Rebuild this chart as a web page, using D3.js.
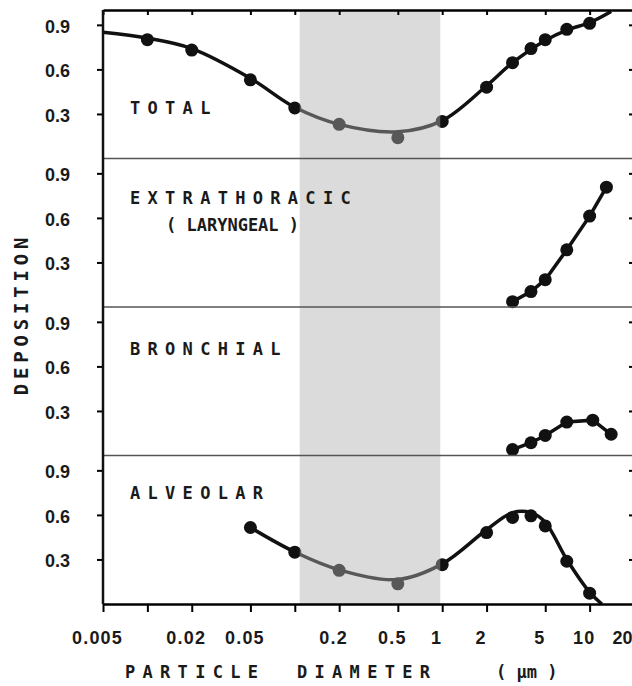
<!DOCTYPE html>
<html>
<head>
<meta charset="utf-8">
<script src="https://cdn.jsdelivr.net/npm/d3@7"></script>
<style>
body { margin: 0; background: #fff; }
svg { display: block; }
.num { font-family: "Liberation Sans", Arial, sans-serif; font-weight: bold; font-size: 18px; fill: #1a1a1a; }
.lab { font-family: "DejaVu Sans Mono", monospace; font-weight: bold; font-size: 17px; fill: #1a1a1a; }
</style>
</head>
<body>
<div id="chart"></div>
<script>
// ---- data ----
const panelNames = ["TOTAL", "EXTRATHORACIC", "BRONCHIAL", "ALVEOLAR"];
const xTicks = [0.005, 0.01, 0.02, 0.05, 0.1, 0.2, 0.5, 1, 2, 5, 10, 20];
const xTickLabels = ["0.005", "", "0.02", "0.05", "", "0.2", "0.5", "1", "2", "5", "10", "20"];
const yTicks = [0.3, 0.6, 0.9];
const shadeRange = [0.108, 0.97]; //grey band, particle diameter

const totalDotX = [0.01, 0.02, 0.05, 0.1, 0.2, 0.5, 1, 2, 3, 4, 5, 7, 10];
const totalDotY = [0.80, 0.73, 0.53, 0.34, 0.23, 0.14, 0.25, 0.48, 0.645, 0.74, 0.80, 0.87, 0.91];
const totalCurveX = [0.005, 0.01, 0.02, 0.05, 0.1, 0.2, 0.5, 1, 2, 3, 5, 7, 10, 14];
const totalCurveY = [0.85, 0.81, 0.74, 0.54, 0.345, 0.23, 0.18, 0.255, 0.49, 0.645, 0.795, 0.865, 0.915, 0.99];

const etDotX = [3, 4, 5, 7, 10, 13];
const etDotY = [0.036, 0.104, 0.184, 0.385, 0.612, 0.807];

const bronchDotX = [3, 4, 5, 7, 10.5, 14];
const bronchDotY = [0.04, 0.086, 0.135, 0.225, 0.238, 0.143];

const alvDotX = [0.05, 0.1, 0.2, 0.5, 1, 2, 3, 4, 5, 7, 10];
const alvDotY = [0.515, 0.349, 0.227, 0.136, 0.265, 0.481, 0.583, 0.594, 0.526, 0.288, 0.073];
const alvCurveX = [0.05, 0.1, 0.2, 0.5, 1, 2, 3, 4, 5, 7, 10, 12.1];
const alvCurveY = [0.515, 0.35, 0.23, 0.165, 0.27, 0.5, 0.615, 0.615, 0.55, 0.3, 0.08, 0];

// ---- layout ----
const width = 632, height = 686;
const margin = {top: 10, left: 103};
const innerWidth = 531;
const innerHeight = 594;
const panelH = innerHeight / 4;
const labelBaseline = [104, 45.5, 48, 43.5]; //inside each panel

const zip = (xs, ys) => xs.map((x, i) => [x, ys[i]]);
const series = [
  {dots: zip(totalDotX, totalDotY), curve: zip(totalCurveX, totalCurveY), smooth: true},
  {dots: zip(etDotX, etDotY), curve: zip(etDotX, etDotY), smooth: false},
  {dots: zip(bronchDotX, bronchDotY), curve: zip(bronchDotX, bronchDotY), smooth: false},
  {dots: zip(alvDotX, alvDotY), curve: zip(alvCurveX, alvCurveY), smooth: true}
];

const svg = d3.select("#chart")
  .append("svg")
  .attr("width", width)
  .attr("height", height);

const innerChart = svg.append("g")
  .attr("transform", `translate(${margin.left}, ${margin.top})`);

const xScale = d3.scaleLog()
  .domain([0.005, 20])
  .range([0, innerWidth]);

const yScale = d3.scaleLinear()
  .domain([0, 1])
  .range([panelH, 0]);

//curves and dots of each panel
series.forEach((s, i) => {
  const panel = innerChart.append("g")
    .attr("transform", `translate(0, ${i * panelH})`);
  const line = d3.line()
    .x(d => xScale(d[0]))
    .y(d => yScale(d[1]))
    .curve(s.smooth ? d3.curveCatmullRom.alpha(0.5) : d3.curveLinear);
  panel.append("path")
    .attr("d", line(s.curve))
    .attr("fill", "none")
    .attr("stroke", "#111")
    .attr("stroke-width", 3.5);
  panel.selectAll("circle")
    .data(s.dots)
    .join("circle")
      .attr("cx", d => xScale(d[0]))
      .attr("cy", d => yScale(d[1]))
      .attr("r", 6.5)
      .attr("fill", "#111");
});

//grey band laid over the marks
innerChart.append("rect")
  .attr("x", xScale(shadeRange[0]))
  .attr("y", 0)
  .attr("width", xScale(shadeRange[1]) - xScale(shadeRange[0]))
  .attr("height", innerHeight)
  .attr("fill", "#b0b0b0")
  .attr("opacity", 0.45);

//panel dividers
innerChart.selectAll(".divider")
  .data([1, 2, 3])
  .join("line")
    .attr("class", "divider")
    .attr("x1", 0)
    .attr("x2", innerWidth)
    .attr("y1", d => d * panelH)
    .attr("y2", d => d * panelH)
    .attr("stroke", "#555")
    .attr("stroke-width", 1.6);

//y axes, one per panel
panelNames.forEach((name, i) => {
  const g = innerChart.append("g")
    .attr("transform", `translate(0, ${i * panelH})`);
  const leftAxis = d3.axisLeft(yScale)
    .tickValues(yTicks)
    .tickSize(6)
    .tickPadding(27)
    .tickFormat(d3.format(".1f"));
  g.append("g")
    .call(leftAxis)
    .call(a => a.select(".domain").remove())
    .call(a => a.selectAll("line").attr("stroke-width", 2))
    .call(a => a.selectAll("text").attr("class", "num").attr("dy", "0.4em"));
  const rightAxis = d3.axisRight(yScale)
    .tickValues(yTicks)
    .tickSize(-5)
    .tickFormat("");
  g.append("g")
    .attr("transform", `translate(${innerWidth}, 0)`)
    .call(rightAxis)
    .call(a => a.select(".domain").remove())
    .call(a => a.selectAll("line").attr("stroke-width", 2));
  g.append("text")
    .attr("class", "lab")
    .attr("x", 27)
    .attr("y", labelBaseline[i])
    .attr("letter-spacing", 7.3)
    .text(name);
});

innerChart.append("text")
  .attr("class", "lab")
  .attr("x", 63)
  .attr("y", panelH + 72.5)
  .text("( LARYNGEAL )");

//top border with inward ticks
innerChart.append("g")
  .call(d3.axisTop(xScale).tickValues(xTicks).tickSize(-5).tickSizeOuter(0).tickFormat(""))
  .call(a => a.select(".domain").attr("stroke-width", 2.5))
  .call(a => a.selectAll("line").attr("stroke-width", 2));

//bottom axis
const bottomAxis = d3.axisBottom(xScale)
  .tickValues(xTicks)
  .tickSize(8)
  .tickPadding(19)
  .tickSizeOuter(0)
  .tickFormat((d, i) => xTickLabels[i]);
innerChart.append("g")
  .attr("transform", `translate(0, ${innerHeight})`)
  .call(bottomAxis)
  .call(a => a.select(".domain").attr("stroke-width", 2.5))
  .call(a => a.selectAll("line").attr("stroke-width", 2))
  .call(a => a.selectAll("text").attr("class", "num").attr("dx", -6).attr("letter-spacing", 1.2))
  .call(a => a.selectAll("text").filter(d => d === 20) //last label kept inside the window
    .attr("text-anchor", "end").attr("dx", -2).attr("letter-spacing", 0));

//left axis line
innerChart.append("line")
  .attr("x1", 0).attr("x2", 0)
  .attr("y1", 0).attr("y2", innerHeight)
  .attr("stroke", "#111")
  .attr("stroke-width", 2.5);

//axis titles
svg.append("text")
  .attr("class", "lab")
  .style("font-size", "19px")
  .attr("letter-spacing", 4.8)
  .attr("text-anchor", "middle")
  .attr("transform", "translate(28, 314) rotate(-90)")
  .text("DEPOSITION");

svg.append("text").attr("class", "lab").attr("x", 125).attr("y", 678).attr("letter-spacing", 7.3).text("PARTICLE");
svg.append("text").attr("class", "lab").attr("x", 297).attr("y", 678).attr("letter-spacing", 7.3).text("DIAMETER");
svg.append("text").attr("class", "lab").attr("x", 496).attr("y", 678).text("( µm )");
</script>
</body>
</html>
